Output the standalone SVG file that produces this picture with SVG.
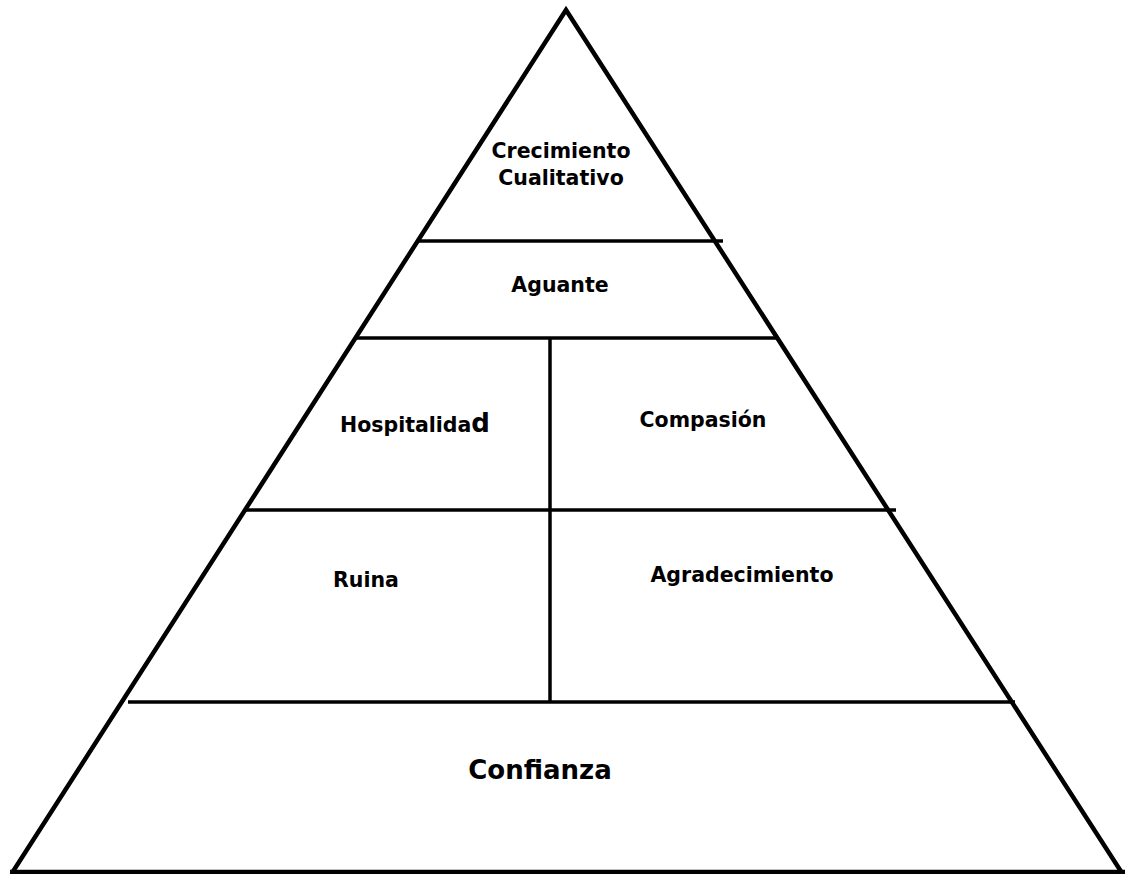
<svg xmlns="http://www.w3.org/2000/svg" width="1125" height="874" viewBox="0 0 1125 874">
<style>
.edge{stroke:#000;stroke-width:4.5;fill:none;stroke-linejoin:miter}
.div{stroke:#000;stroke-width:3.5;fill:none}
.t{font-family:"DejaVu Sans",Verdana,sans-serif;font-weight:bold;font-size:20.5px;fill:#000;text-anchor:middle}
.big{font-family:"DejaVu Sans",Verdana,sans-serif;font-weight:bold;font-size:26px;fill:#000;text-anchor:middle}
</style>
<rect width="1125" height="874" fill="#fff"/>
<g id="pyramid">
<path class="edge" d="M12,873 L566,10 L1122,873"/>
<line class="edge" x1="10" y1="872" x2="1125" y2="872"/>
</g>
<g id="connectors">
<line class="div" x1="418" y1="241" x2="723" y2="241"/>
<line class="div" x1="357" y1="338" x2="778" y2="338"/>
<line class="div" x1="246" y1="510" x2="896" y2="510"/>
<line class="div" x1="128" y1="702" x2="1015" y2="702"/>
<line class="div" x1="550" y1="338" x2="550" y2="702"/>
</g>
<g id="crecimiento"><text class="t" x="561" y="158">Crecimiento</text><text class="t" x="561" y="185">Cualitativo</text></g>
<g id="aguante"><text class="t" x="560" y="292">Aguante</text></g>
<g id="hospitalidad"><text class="t" x="415" y="432">Hospitalida<tspan font-size="26">d</tspan></text></g>
<g id="compasion"><text class="t" x="703" y="427">Compasión</text></g>
<g id="ruina"><text class="t" x="366" y="587">Ruina</text></g>
<g id="agradecimiento"><text class="t" x="742" y="582">Agradecimiento</text></g>
<g id="confianza"><text class="big" x="540" y="779">Confianza</text></g>
</svg>
